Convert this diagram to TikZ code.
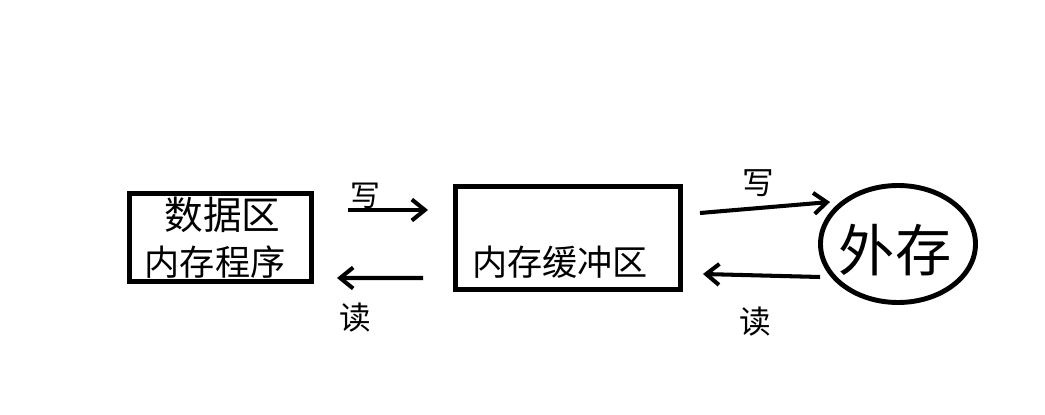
\documentclass[tikz,border=0pt]{standalone}
\usepackage{fontspec}
\newfontfamily\cjk{Noto Sans CJK SC}
\usetikzlibrary{positioning,arrows.meta,calc,shapes.geometric}
\tikzset{
  membox/.style={draw,line width=2.8pt,minimum width=3.64cm,minimum height=1.76cm,inner sep=0pt},
  extstore/.style={ellipse,draw,line width=2.8pt,minimum width=3.1cm,minimum height=2.34cm,inner sep=0pt},
  rw/.style={-{Straight Barb[length=2.6mm,width=4.2mm]},line width=2.3pt}, % hand arrow
  hand/.style={font=\cjk,inner sep=0pt},
}

\begin{document}
\begin{tikzpicture}[scale=1.0]
  \useasboundingbox (0,0) rectangle (20.9,8.28);
  \node[membox] (mem) at (4.41,3.53) {};
  \node[membox,minimum width=4.5cm,minimum height=2.06cm] (buf) at (11.36,3.52) {};
  \node[extstore] (ext) at (17.96,3.40) {};
  % texts
  \node[hand,font=\cjk\fontsize{22}{24}\selectfont] (memtop) at (4.45,3.98) {数据区};
  \node[hand,font=\cjk\fontsize{20}{24}\selectfont] (membot) at (4.3,3.04) {内存程序};
  \node[hand,font=\cjk\fontsize{20}{24}\selectfont] (buftxt) at (11.2,3.04) {内存缓冲区};
  \node[hand,font=\cjk\fontsize{32}{36}\selectfont] (exttxt) at (17.9,3.28) {外存};
  % write / read
  \draw[rw] ([shift={(0.68,0.55)}]mem.east) -- ([shift={(-0.5,0.56)}]buf.west);
  \draw[rw] ([shift={(-0.6,-0.8)}]buf.west) -- ([shift={(0.46,-0.81)}]mem.east);
  \draw[rw] ([shift={(0.34,0.5)}]buf.east) -- ([shift={(0.24,0.84)}]ext.west);
  \draw[rw] ([shift={(0.04,-0.66)}]ext.west) -- ([shift={(0.4,-0.72)}]buf.east);
  \node[hand,font=\cjk\fontsize{17}{20}\selectfont] (w1) at (7.3,4.36) {写};
  \node[hand,font=\cjk\fontsize{18}{20}\selectfont] (r1) at (7.1,1.92) {读};
  \node[hand,font=\cjk\fontsize{18}{20}\selectfont] (w2) at (15.16,4.62) {写};
  \node[hand,font=\cjk\fontsize{18}{20}\selectfont] (r2) at (15.1,1.84) {读};
\end{tikzpicture}
\end{document}
